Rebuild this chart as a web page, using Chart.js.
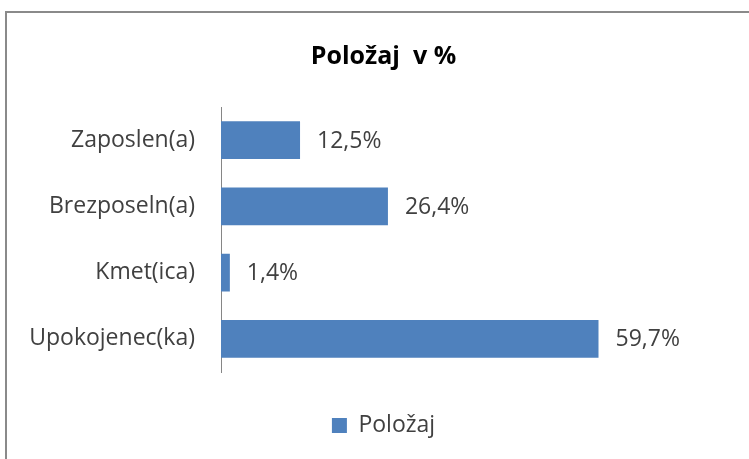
<!DOCTYPE html>
<html>
<head>
<meta charset="utf-8">
<script src="https://cdn.jsdelivr.net/npm/chart.js@4/dist/chart.umd.min.js"></script>
<style>
  html, body { margin: 0; padding: 0; background: #fff; overflow: hidden; }
  #wrap { position: relative; width: 749px; height: 459px; }
  #frame { position: absolute; left: 5px; top: 11px; width: 800px; height: 500px; border: 2px solid #8a8a8a; box-sizing: border-box; }
  canvas { position: absolute; left: 0; top: 0; }
</style>
</head>
<body>
<div id="wrap">
  <div id="frame"></div>
  <canvas id="grafPolozaj" width="749" height="459"></canvas>
</div>
<script>
// podatki
const kategorije = ["Zaposlen(a)", "Brezposeln(a)", "Kmet(ica)", "Upokojenec(ka)"];
const vrednosti = [12.5, 26.4, 1.4, 59.7];
const imeSerije = "Položaj";

const pisava = "'Open Sans', 'DejaVu Sans', sans-serif";

// napisi vrednosti desno od stolpcev
const napisiVrednosti = {
  id: "napisiVrednosti",
  afterDatasetsDraw(chart) {
    const ctx = chart.ctx;
    const meta = chart.getDatasetMeta(0);
    ctx.save();
    ctx.font = "23px " + pisava;
    ctx.fillStyle = "#404040";
    ctx.textAlign = "left";
    ctx.textBaseline = "middle";
    meta.data.forEach((bar, i) => {
      const txt = vrednosti[i].toFixed(1).replace(".", ",") + "%";
      ctx.fillText(txt, bar.x + 17, bar.y + 1);
    });
    ctx.restore();
  }
};

new Chart("grafPolozaj", {
  type: "bar",
  data: {
    labels: kategorije,
    datasets: [{
      label: imeSerije,
      data: vrednosti,
      backgroundColor: "#4F81BD",
      borderColor: "#4F81BD",
      categoryPercentage: 1,
      barPercentage: 0.57
    }]
  },
  options: {
    indexAxis: "y",
    responsive: false,
    animation: false,
    events: [],
    layout: { padding: { left: 18, right: 0, top: 12, bottom: 12 } },
    plugins: {
      title: {
        display: true,
        text: "Položaj  v %",
        color: "#000",
        font: { family: pisava, size: 25, weight: "bold" },
        padding: { top: 30, bottom: 35 }
      },
      legend: {
        position: "bottom",
        labels: {
          color: "#404040",
          font: { family: pisava, size: 23 },
          boxWidth: 15,
          boxHeight: 15,
          padding: 20
        }
      },
      tooltip: { enabled: false }
    },
    scales: {
      x: {
        display: true,
        min: 0,
        max: 83.5,
        grid: { display: false, drawTicks: false },
        border: { display: false },
        ticks: { display: false },
        afterFit(scale) { scale.height = 22; }
      },
      y: {
        grid: { display: false, drawTicks: false },
        border: { display: true, color: "#868686", width: 1 },
        ticks: {
          color: "#404040",
          font: { family: pisava, size: 23 },
          padding: 26
        },
        afterFit(scale) { scale.width = 203; }
      }
    }
  },
  plugins: [napisiVrednosti]
});
</script>
</body>
</html>
